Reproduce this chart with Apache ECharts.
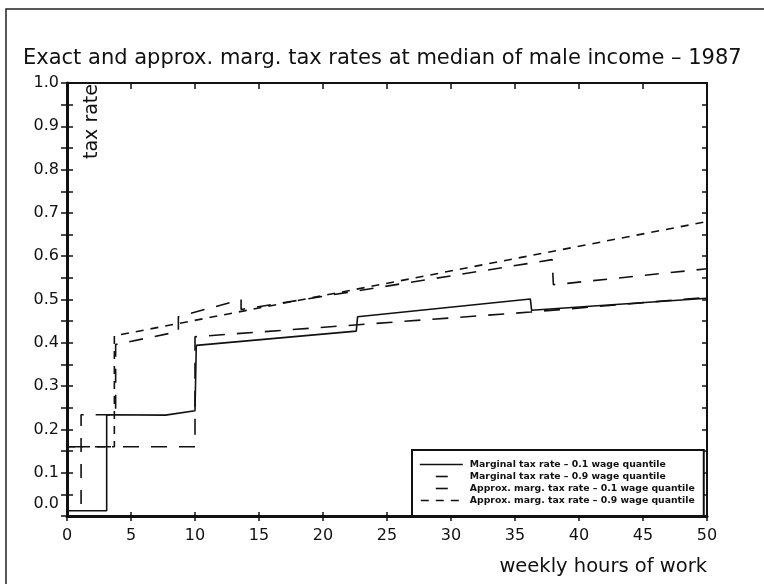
<!DOCTYPE html>
<html>
<head>
<meta charset="utf-8">
<script src="https://cdn.jsdelivr.net/npm/echarts@6/dist/echarts.min.js"></script>
<style>
  html, body { margin: 0; padding: 0; background: #fff; }
  #main { width: 764px; height: 584px; }
</style>
</head>
<body>
<div id="main"></div>
<script>
// tick labels
const xTicks = [0, 5, 10, 15, 20, 25, 30, 35, 40, 45, 50]
const yTicks = [0.0, 0.1, 0.2, 0.3, 0.4, 0.5, 0.6, 0.7, 0.8, 0.9, 1.0]

const seriesNames = [
  'Marginal tax rate \u2013 0.1 wage quantile',
  'Marginal tax rate \u2013 0.9 wage quantile',
  'Approx. marg. tax rate \u2013 0.1 wage quantile',
  'Approx. marg. tax rate \u2013 0.9 wage quantile'
]

// marginal tax rate, 0.1 wage quantile (step function)
const marg01Hours = [0, 3.1, 3.1, 7.7, 10.0, 10.1, 22.6, 22.7, 36.2, 36.3, 50]
const marg01Rates = [0.012, 0.012, 0.234, 0.233, 0.243, 0.394, 0.427, 0.46, 0.501, 0.475, 0.503]

// marginal tax rate, 0.9 wage quantile
const marg09Hours = [0, 1.1, 1.1, 3.8, 3.8, 8.7, 8.7, 13.6, 13.6, 37.9, 38.0, 50]
const marg09Rates = [0.0, 0.0, 0.234, 0.234, 0.396, 0.426, 0.46, 0.50, 0.477, 0.592, 0.534, 0.571]

// approx. marginal tax rate, 0.1 wage quantile
const appr01Hours = [0, 10.0, 10.0, 36.2, 50]
const appr01Rates = [0.16, 0.16, 0.414, 0.471, 0.505]

// approx. marginal tax rate, 0.9 wage quantile
const appr09Hours = [0, 3.7, 3.7, 50]
const appr09Rates = [0.16, 0.16, 0.416, 0.68]

function pairs(xs, ys) {
  return xs.map((x, i) => [x, ys[i]])
}

const ink = '#111'
const font = 'DejaVu Sans'

const chart = echarts.init(document.getElementById('main'))

function lineSeries(name, xs, ys, type) {
  return {
    name: name,
    type: 'line',
    xAxisIndex: 0,
    yAxisIndex: 0,
    data: pairs(xs, ys),
    symbol: 'none',
    animation: false,
    lineStyle: { color: ink, width: 1.6, type: type },
    itemStyle: { color: ink }
  }
}

chart.setOption({
  backgroundColor: '#fff',
  title: {
    text: 'Exact and approx. marg. tax rates at median of male income \u2013 1987',
    left: 18,
    top: 43,
    textStyle: { fontFamily: font, fontSize: 21, fontWeight: 'normal', color: ink }
  },
  graphic: [
    { // outer frame of the figure
      type: 'rect',
      shape: { x: 6, y: 9, width: 820, height: 640 },
      style: { fill: null, stroke: '#222', lineWidth: 1.5 },
      silent: true
    }
  ],
  grid: { left: 67, right: 57, top: 83, bottom: 68 },
  legend: {
    orient: 'vertical',
    left: 412,
    top: 450,
    itemWidth: 43,
    itemHeight: 10,
    itemGap: 3,
    padding: [10, 9, 11, 7],
    backgroundColor: '#fff',
    borderColor: ink,
    borderWidth: 2,
    borderRadius: 0,
    itemStyle: { opacity: 0 },
    lineStyle: { width: 1.6 },
    textStyle: { fontFamily: font, fontSize: 9.3, fontWeight: 'bold', color: ink, padding: [0, 0, 0, 2] },
    data: [
      { name: seriesNames[0] },
      { name: seriesNames[1], lineStyle: { type: [12, 40], dashOffset: -16 } },
      { name: seriesNames[2], lineStyle: { type: [12, 19] } },
      { name: seriesNames[3], lineStyle: { type: [8, 7] } }
    ]
  },
  xAxis: [
    {
      type: 'value',
      position: 'bottom',
      min: 0,
      max: 50,
      interval: 5,
      name: 'weekly hours of work',
      nameLocation: 'end',
      nameGap: 0,
      nameTextStyle: {
        fontFamily: font, fontSize: 19.5, color: ink,
        align: 'right', verticalAlign: 'top', padding: [41, 0, 0, 0]
      },
      axisLine: { show: true, onZero: false, lineStyle: { color: ink, width: 3 } },
      axisTick: { show: true, length: 5, lineStyle: { color: ink, width: 1.5 } },
      axisLabel: {
        fontFamily: font, fontSize: 16, color: ink, margin: 12,
        formatter: v => (xTicks.indexOf(v) >= 0 ? String(v) : '')
      },
      splitLine: { show: false }
    },
    {
      type: 'value',
      position: 'bottom',
      min: 0,
      max: 50,
      interval: 5,
      axisLine: { show: false, onZero: false },
      axisTick: { show: true, inside: true, length: 4, lineStyle: { color: ink, width: 1.5 } },
      axisLabel: { show: false },
      splitLine: { show: false }
    },
    {
      type: 'value',
      position: 'top',
      min: 0,
      max: 50,
      interval: 5,
      axisLine: { show: true, onZero: false, lineStyle: { color: ink, width: 2 } },
      axisTick: { show: true, inside: true, length: 6, lineStyle: { color: ink, width: 1.5 } },
      axisLabel: { show: false },
      splitLine: { show: false }
    }
  ],
  yAxis: [
    {
      type: 'value',
      position: 'left',
      min: 0,
      max: 1,
      interval: 0.1,
      name: 'tax rate',
      nameLocation: 'end',
      nameRotate: 90,
      nameGap: 0,
      nameTextStyle: {
        fontFamily: font, fontSize: 19, color: ink,
        align: 'right', verticalAlign: 'bottom', padding: [0, 1, -35, 0]
      },
      axisLine: { show: true, onZero: false, lineStyle: { color: ink, width: 3 } },
      axisTick: { show: true, length: 6, lineStyle: { color: ink, width: 1.5 } },
      minorTick: { show: true, splitNumber: 2, length: 6, lineStyle: { color: ink, width: 1.5 } },
      axisLabel: {
        fontFamily: font, fontSize: 16, color: ink, margin: 8,
        formatter: function (v) {
          const t = yTicks.find(y => Math.abs(y - v) < 1e-6)
          if (t === undefined) return ''
          return t === 0 ? '{lift|' + t.toFixed(1) + '}' : t.toFixed(1)
        },
        rich: { lift: { fontFamily: font, fontSize: 16, color: ink, padding: [0, 0, 24, 0] } }
      },
      splitLine: { show: false },
      minorSplitLine: { show: false }
    },
    {
      type: 'value',
      position: 'left',
      min: 0,
      max: 1,
      interval: 0.1,
      axisLine: { show: false, onZero: false },
      axisTick: { show: true, inside: true, length: 6, lineStyle: { color: ink, width: 1.5 } },
      minorTick: { show: true, splitNumber: 2, length: 6, lineStyle: { color: ink, width: 1.5 } },
      axisLabel: { show: false },
      splitLine: { show: false }
    },
    {
      type: 'value',
      position: 'right',
      min: 0,
      max: 1,
      interval: 0.1,
      axisLine: { show: true, onZero: false, lineStyle: { color: ink, width: 2 } },
      axisTick: { show: true, inside: true, length: 5, lineStyle: { color: ink, width: 1.5 } },
      minorTick: { show: true, splitNumber: 2, length: 5, lineStyle: { color: ink, width: 1.5 } },
      axisLabel: { show: false },
      splitLine: { show: false }
    }
  ],
  series: [
    lineSeries(seriesNames[0], marg01Hours, marg01Rates, 'solid'),
    lineSeries(seriesNames[1], marg09Hours, marg09Rates, [14, 12]),
    lineSeries(seriesNames[2], appr01Hours, appr01Rates, [16, 12]),
    lineSeries(seriesNames[3], appr09Hours, appr09Rates, [8, 7])
  ]
})
</script>
</body>
</html>
